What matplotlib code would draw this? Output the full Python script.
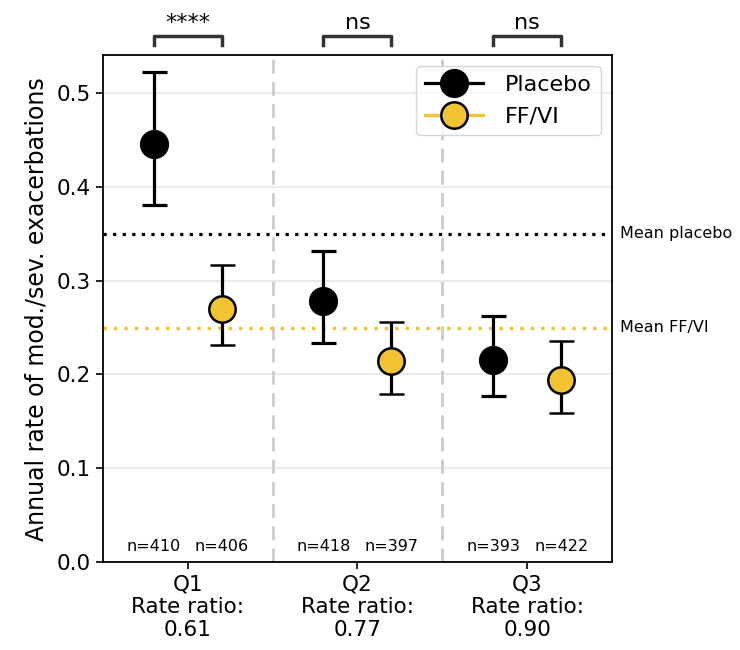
import matplotlib
matplotlib.use("Agg")
import matplotlib.pyplot as plt
from matplotlib.lines import Line2D

# values
groups = ["Q1", "Q2", "Q3"]
rate_ratio = ["0.61", "0.77", "0.90"]
placebo = [0.446, 0.278, 0.215]
placebo_lo = [0.381, 0.233, 0.177]
placebo_hi = [0.522, 0.332, 0.262]
ffvi = [0.270, 0.214, 0.194]
ffvi_lo = [0.231, 0.179, 0.159]
ffvi_hi = [0.317, 0.256, 0.236]
n_placebo = [410, 418, 393]
n_ffvi = [406, 397, 422]
signif = ["****", "ns", "ns"]
mean_placebo = 0.35
mean_ffvi = 0.25

yellow = "#F2C431"
off = 0.2

fig, ax = plt.subplots(figsize=(7.4, 6.5), dpi=100)
fig.subplots_adjust(left=0.139, right=0.827, top=0.915, bottom=0.135)

xs = list(range(len(groups)))
xp = [x - off for x in xs]
xf = [x + off for x in xs]

ax.errorbar(xp, placebo,
            yerr=[[p - l for p, l in zip(placebo, placebo_lo)],
                  [h - p for p, h in zip(placebo, placebo_hi)]],
            fmt="o", color="black", ms=20, mfc="black", mec="black",
            ecolor="black", elinewidth=2.3, capsize=9, capthick=2.3, zorder=3)
ax.errorbar(xf, ffvi,
            yerr=[[p - l for p, l in zip(ffvi, ffvi_lo)],
                  [h - p for p, h in zip(ffvi, ffvi_hi)]],
            fmt="o", color="black", ms=19, mfc=yellow, mec="black", mew=1.8,
            ecolor="black", elinewidth=2.3, capsize=9, capthick=2.3, zorder=3)

ax.axhline(mean_placebo, color="black", ls=(0, (1, 2)), lw=2.3, zorder=2)
ax.axhline(mean_ffvi, color=yellow, ls=(0, (1, 2)), lw=2.5, zorder=2)
ax.text(2.55, mean_placebo, "Mean placebo", va="center", ha="left", fontsize=11.5)
ax.text(2.55, mean_ffvi, "Mean FF/VI", va="center", ha="left", fontsize=11.5)

for x in [0.5, 1.5]:
    ax.axvline(x, color="#cccccc", ls=(0, (5, 3)), lw=2, zorder=1)

ax.set_xlim(-0.5, 2.5)
ax.set_ylim(0, 0.54)
ax.yaxis.grid(True, color="#e6e6e6", lw=1.2)
ax.set_axisbelow(True)
ax.set_yticks([0.0, 0.1, 0.2, 0.3, 0.4, 0.5])
ax.set_xticks(xs)
ax.set_xticklabels([f"{g}\nRate ratio:\n{r}" for g, r in zip(groups, rate_ratio)],
                   fontsize=15.5)
ax.tick_params(axis="y", labelsize=15.5, length=5, width=1.2)
ax.tick_params(axis="x", length=5, width=1.2)
for s in ax.spines.values():
    s.set_linewidth(1.3)
ax.set_ylabel("Annual rate of mod./sev. exacerbations", fontsize=17, labelpad=6)

for i in xs:
    ax.text(xp[i], 0.009, f"n={n_placebo[i]}", ha="center", va="bottom", fontsize=11.5)
    ax.text(xf[i], 0.009, f"n={n_ffvi[i]}", ha="center", va="bottom", fontsize=11.5)
    ax.plot([xp[i], xp[i], xf[i], xf[i]], [0.551, 0.561, 0.561, 0.551],
            color="#333333", lw=2.5, clip_on=False)
    ax.text(i, 0.564, signif[i], ha="center", va="bottom", fontsize=16)

handles = [
    Line2D([], [], color="black", lw=2.3, marker="o", ms=20, mfc="black", mec="black"),
    Line2D([], [], color=yellow, lw=2.3, marker="o", ms=19, mfc=yellow, mec="black", mew=1.8),
]
ax.legend(handles, ["Placebo", "FF/VI"], loc="upper right", fontsize=16,
          handlelength=2.6, borderpad=0.4, labelspacing=0.5, handletextpad=1.0)

fig.savefig("out.png", dpi=100)
